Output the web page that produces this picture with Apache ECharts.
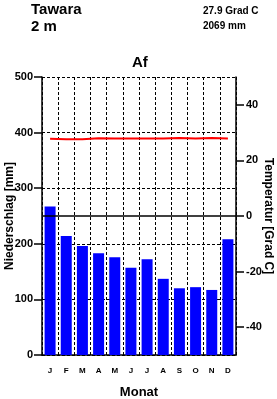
<!DOCTYPE html>
<html lang="de">
  <head>
    <meta charset="UTF-8" />
    <title>Tawara</title>
    <style>
      html, body { margin: 0; padding: 0; background: #fff; }
      #main { width: 277px; height: 399px; }
    </style>
  </head>
  <body>
    <script src="https://cdn.jsdelivr.net/npm/echarts@6/dist/echarts.min.js"></script>
    <div id="main"></div>
    <script>
      const months = ['J', 'F', 'M', 'A', 'M', 'J', 'J', 'A', 'S', 'O', 'N', 'D']
      const precip = [267, 214, 196, 183, 176, 157, 172, 137, 120, 122, 117, 208]
      const temp = [27.8, 27.6, 27.6, 28.0, 27.9, 27.9, 27.9, 27.9, 28.1, 27.9, 28.1, 27.9]
      const precipTicks = [0, 100, 200, 300, 400, 500]
      const tempTicks = [-40, -20, 0, 20, 40]

      const font = 'Liberation Sans, Arial, sans-serif'
      const titleStyle = (size) => ({ fontSize: size, fontWeight: 'bold', fontFamily: font, color: '#000' })
      const chart = echarts.init(document.getElementById('main'))
      chart.setOption({
        animation: false,
        textStyle: { fontFamily: font, color: '#000' },
        title: [
          { text: 'Tawara', left: 26, top: -3, textStyle: titleStyle(15) },
          { text: '2 m', left: 26, top: 14, textStyle: titleStyle(15) },
          { text: '27.9 Grad C', left: 198, top: 1, textStyle: titleStyle(10) },
          { text: '2069 mm', left: 198, top: 16, textStyle: titleStyle(10) },
          { text: 'Af', left: 127, top: 50, textStyle: titleStyle(15) }
        ],
        grid: { left: 42, right: 41, top: 77, bottom: 44, containLabel: false, outerBoundsMode: 'none' },
        xAxis: {
          type: 'category',
          data: months,
          axisLine: { lineStyle: { color: '#000', width: 1.5 } },
          axisTick: { show: false },
          axisLabel: { fontSize: 8, fontWeight: 'bold', margin: 12, color: '#000' },
          splitLine: { show: true, lineStyle: { color: '#000', type: [3, 2], width: 1 } },
          name: 'Monat',
          nameLocation: 'middle',
          nameGap: 31,
          nameMoveOverlap: false,
          nameTextStyle: { fontSize: 13, fontWeight: 'bold', color: '#000' }
        },
        yAxis: [
          {
            type: 'value',
            min: 0,
            max: 500,
            interval: 50,
            axisLine: { show: true, lineStyle: { color: '#000', width: 1.5 } },
            axisTick: { show: true, customValues: precipTicks, length: 8, lineStyle: { color: '#000', width: 1.5 } },
            axisLabel: { customValues: precipTicks, fontSize: 11, fontWeight: 'bold', margin: 9, color: '#000' },
            splitLine: { show: true, lineStyle: { color: '#000', type: [3, 2], width: 1 } },
            name: 'Niederschlag [mm]',
            nameLocation: 'middle',
            nameGap: 26,
            nameMoveOverlap: false,
            nameTextStyle: { fontSize: 12, fontWeight: 'bold', color: '#000' }
          },
          {
            type: 'value',
            min: -50,
            max: 50,
            interval: 10,
            position: 'right',
            axisLine: { show: true, lineStyle: { color: '#000', width: 1.5 } },
            axisTick: { show: true, customValues: tempTicks, length: 8, lineStyle: { color: '#000', width: 1.5 } },
            axisLabel: { customValues: tempTicks, fontSize: 11, fontWeight: 'bold', margin: 10, color: '#000' },
            splitLine: { show: false },
            name: 'Temperatur [Grad C]',
            nameLocation: 'middle',
            nameRotate: -90,
            nameGap: 26,
            nameMoveOverlap: false,
            nameTextStyle: { fontSize: 12, fontWeight: 'bold', color: '#000' }
          }
        ],
        series: [
          {
            type: 'bar',
            data: precip,
            barWidth: '68%',
            itemStyle: { color: '#0000ff' }
          },
          {
            type: 'line',
            yAxisIndex: 1,
            data: temp,
            symbol: 'none',
            lineStyle: { color: '#ff0000', width: 2 },
            markLine: {
              silent: true,
              symbol: 'none',
              label: { show: false },
              lineStyle: { color: '#000', type: 'solid', width: 1.5 },
              data: [{ yAxis: 0 }]
            }
          }
        ]
      })
    </script>
  </body>
</html>
